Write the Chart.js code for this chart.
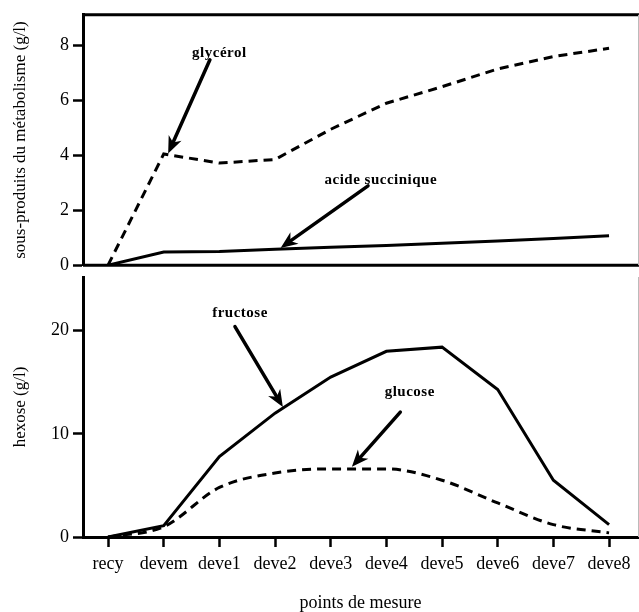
<!DOCTYPE html>
<html>
<head>
<meta charset="utf-8">
<script src="https://cdn.jsdelivr.net/npm/chart.js@4.4.0/dist/chart.umd.min.js"></script>
<style>
    body { margin: 0; background: #fff; }
    #wrap { position: relative; width: 639px; height: 612px; }
    canvas { position: absolute; left: 0; }
</style>
</head>
<body>
<div id="wrap">
    <canvas id="chartTop" width="639" height="280" style="top:0"></canvas>
    <canvas id="chartBottom" width="639" height="350" style="top:262px"></canvas>
</div>
<script>
// measurement points
var points = ['recy', 'devem', 'deve1', 'deve2', 'deve3', 'deve4', 'deve5', 'deve6', 'deve7', 'deve8'];

// sous-produits du metabolisme (g/l)
var glycerol = [0, 4.05, 3.72, 3.85, 4.95, 5.9, 6.5, 7.15, 7.6, 7.9];
var succinique = [0, 0.48, 0.5, 0.58, 0.65, 0.72, 0.8, 0.88, 0.97, 1.07];

// hexose (g/l)
var fructose = [0, 1.1, 7.8, 12.0, 15.5, 18.0, 18.4, 14.3, 5.5, 1.2];
var glucose = [0, 1.0, 4.8, 6.2, 6.6, 6.6, 5.5, 3.3, 1.2, 0.4];

var topTicks = [0, 2, 4, 6, 8];
var bottomTicks = [0, 10, 20];

// labels with arrows, in data units: [x index, value]
var topNotes = [
    { text: 'glycérol', at: [2.0, 7.72], from: [1.83, 7.48], to: [1.08, 4.07] },
    { text: 'acide succinique', at: [4.9, 3.1], from: [4.67, 2.89], to: [3.1, 0.63] }
];
var bottomNotes = [
    { text: 'fructose', at: [2.37, 21.7], from: [2.28, 20.4], to: [3.14, 12.6] },
    { text: 'glucose', at: [5.42, 14.0], from: [5.25, 12.1], to: [4.38, 6.8] }
];

var FONT = "'Liberation Serif', 'DejaVu Serif', serif";

function toXY(chart, p) {
    return {
        x: chart.scales.x.getPixelForValue(p[0]),
        y: chart.scales.y.getPixelForValue(p[1])
    };
}

function drawArrow(ctx, a, b) {
    var ang = Math.atan2(b.y - a.y, b.x - a.x);
    var len = 17, half = 7;
    var bx = b.x - Math.cos(ang) * len, by = b.y - Math.sin(ang) * len;
    ctx.beginPath();
    ctx.moveTo(a.x, a.y);
    ctx.lineTo(b.x - Math.cos(ang) * 10, b.y - Math.sin(ang) * 10);
    ctx.lineWidth = 3.5;
    ctx.stroke();
    ctx.beginPath();
    ctx.moveTo(b.x, b.y);
    ctx.lineTo(bx + Math.sin(ang) * half, by - Math.cos(ang) * half);
    ctx.lineTo(b.x - Math.cos(ang) * 12, b.y - Math.sin(ang) * 12);
    ctx.lineTo(bx - Math.sin(ang) * half, by + Math.cos(ang) * half);
    ctx.closePath();
    ctx.fill();
}

var notesPlugin = {
    id: 'notes',
    afterDatasetsDraw: function(chart, args, opts) {
        var ctx = chart.ctx;
        ctx.save();
        ctx.strokeStyle = '#000';
        ctx.fillStyle = '#000';
        ctx.lineCap = 'round';
        (opts.items || []).forEach(function(n) {
            drawArrow(ctx, toXY(chart, n.from), toXY(chart, n.to));
            var p = toXY(chart, n.at);
            ctx.font = 'bold 15px ' + FONT;
            ctx.letterSpacing = '0.5px';
            ctx.textAlign = 'center';
            ctx.textBaseline = 'middle';
            ctx.fillText(n.text, p.x, p.y);
        });
        ctx.restore();
    }
};

var framePlugin = {
    id: 'frame',
    beforeDatasetsDraw: function(chart, args, opts) {
        var a = chart.chartArea, ctx = chart.ctx;
        ctx.save();
        ctx.strokeStyle = '#000';
        ctx.lineWidth = 3;
        ctx.beginPath();
        if (opts.top) { ctx.moveTo(a.left, a.top); ctx.lineTo(639, a.top); }
        if (opts.bottom) { ctx.moveTo(a.left, a.bottom); ctx.lineTo(639, a.bottom); }
        ctx.stroke();
        ctx.strokeStyle = '#bbb';
        ctx.lineWidth = 1;
        ctx.beginPath();
        ctx.moveTo(a.right + 0.5, a.top);
        ctx.lineTo(a.right + 0.5, a.bottom);
        ctx.stroke();
        ctx.restore();
    }
};

function lineSet(label, data, dashed, smooth) {
    return {
        label: label,
        data: data.map(function(v, i) { return { x: i, y: v }; }),
        borderColor: '#000',
        borderWidth: 3,
        borderDash: dashed ? [9, 6] : [],
        pointRadius: 0,
        fill: false,
        cubicInterpolationMode: smooth ? 'monotone' : 'default',
        tension: 0
    };
}

function xScale(show) {
    return {
        type: 'linear',
        display: show,
        min: -0.45,
        max: 9.52,
        afterBuildTicks: function(s) { s.ticks = points.map(function(p, i) { return { value: i }; }); },
        afterFit: function(s) { if (show) s.height = 75; },
        border: { display: true, width: 3, color: '#000' },
        grid: { drawOnChartArea: false, tickLength: 10, tickWidth: 2.5, tickColor: '#000' },
        ticks: {
            color: '#000',
            font: { family: FONT, size: 18 },
            padding: 6,
            maxRotation: 0,
            autoSkip: false,
            callback: function(v) { return points[v]; }
        },
        title: {
            display: true,
            text: 'points de mesure',
            color: '#000',
            font: { family: FONT, size: 18, lineHeight: 1 },
            padding: { top: 0, bottom: 0 }
        }
    };
}

function yScale(max, ticks, title) {
    return {
        min: 0,
        max: max,
        afterBuildTicks: function(s) { s.ticks = ticks.map(function(v) { return { value: v }; }); },
        afterFit: function(s) { s.width = 83; },
        border: { display: true, width: 3, color: '#000' },
        grid: { drawOnChartArea: false, tickLength: 10, tickWidth: 2.5, tickColor: '#000' },
        ticks: { color: '#000', font: { family: FONT, size: 18 }, padding: 4 },
        title: {
            display: true,
            text: title,
            color: '#000',
            font: { family: FONT, size: 17, lineHeight: 1.2 },
            padding: { top: 10, bottom: 0 }
        }
    };
}

function baseOptions(padding, x, y, notes, frame) {
    return {
        responsive: false,
        animation: false,
        devicePixelRatio: 1,
        layout: { padding: padding },
        plugins: {
            legend: { display: false },
            tooltip: { enabled: false },
            notes: { items: notes },
            frame: frame
        },
        scales: { x: x, y: y }
    };
}

new Chart(document.getElementById('chartTop'), {
    type: 'line',
    data: { datasets: [lineSet('glycérol', glycerol, true, false), lineSet('acide succinique', succinique, false, false)] },
    options: baseOptions({ top: 14, right: 1, bottom: 3, left: 0 }, xScale(false),
        yScale(9.12, topTicks, 'sous-produits du métabolisme (g/l)'), topNotes, { top: true, bottom: true }),
    plugins: [framePlugin, notesPlugin]
});

new Chart(document.getElementById('chartBottom'), {
    type: 'line',
    data: { datasets: [lineSet('fructose', fructose, false, false), lineSet('glucose', glucose, true, true)] },
    options: baseOptions({ top: 15, right: 1, bottom: 0, left: 0 }, xScale(true),
        yScale(25.2, bottomTicks, 'hexose (g/l)'), bottomNotes, { top: false, bottom: false }),
    plugins: [framePlugin, notesPlugin]
});
</script>
</body>
</html>
